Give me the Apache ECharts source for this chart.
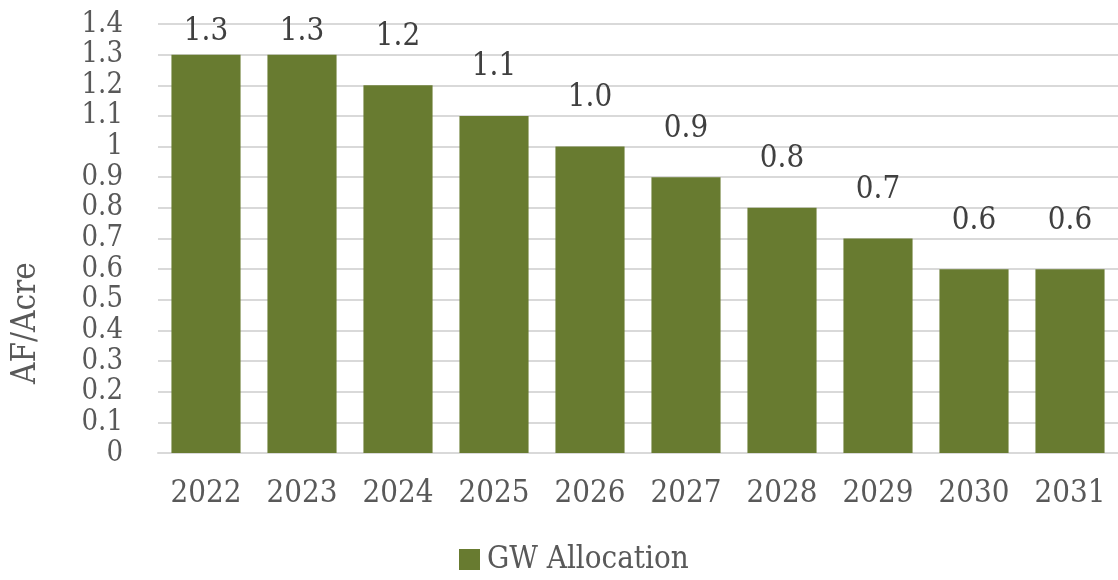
<!DOCTYPE html>
<html>
<head>
<meta charset="utf-8">
<title>GW Allocation</title>
<script src="https://cdn.jsdelivr.net/npm/echarts@6/dist/echarts.min.js"></script>
<style>
    html, body { margin: 0; padding: 0; background: #fff; }
    #gw_allocation { width: 1118px; height: 580px; }
</style>
</head>
<body>
<div id="gw_allocation"></div>
<script>
// Chart data
// ------------------------------

var years = ['2022', '2023', '2024', '2025', '2026', '2027', '2028', '2029', '2030', '2031'];
var allocation = [1.3, 1.3, 1.2, 1.1, 1.0, 0.9, 0.8, 0.7, 0.6, 0.6];
var seriesName = 'GW Allocation';
var axisName = 'AF/Acre';


// Setup chart
// ------------------------------

var chartElement = document.getElementById('gw_allocation');
var chart = echarts.init(chartElement, null, { renderer: 'canvas' });

var fontFamily = '"DejaVu Serif Condensed", "DejaVu Serif", serif';
var fontSize = 31;
var barColor = '#687b30';

// Labels near the top of the plot get pushed down, like the original
var barData = allocation.map(function(v) {
    return {
        value: v,
        label: { distance: v >= 1.3 ? 7 : 33 }
    };
});

chart.setOption({
    animation: false,
    textStyle: {
        fontFamily: fontFamily
    },

    grid: {
        left: 158,
        top: 24,
        width: 970,
        bottom: 127,
        containLabel: false
    },

    legend: {
        bottom: 0,
        left: 454,
        itemWidth: 21,
        itemHeight: 21,
        itemGap: 10,
        icon: 'rect',
        textStyle: {
            color: '#595959',
            fontSize: fontSize,
            fontFamily: fontFamily,
            padding: [0, 0, 0, 2]
        },
        data: [seriesName]
    },

    xAxis: {
        type: 'category',
        data: years,
        axisTick: { show: false },
        axisLine: {
            lineStyle: { color: '#d9d9d9', width: 2 }
        },
        axisLabel: {
            color: '#595959',
            fontSize: fontSize,
            margin: 25,
            fontFamily: fontFamily
        }
    },

    yAxis: {
        type: 'value',
        min: 0,
        max: 1.4,
        interval: 0.1,
        axisLine: { show: false },
        axisTick: { show: false },
        axisLabel: {
            color: '#595959',
            fontSize: 29,
            lineHeight: 22,
            margin: 35,
            fontFamily: fontFamily,
            formatter: function(v) {
                return String(Math.round(v * 10) / 10);
            }
        },
        splitLine: {
            lineStyle: { color: '#d9d9d9', width: 2 }
        }
    },

    // Axis title sits lower than the axis middle in the original
    graphic: [{
        type: 'text',
        rotation: Math.PI / 2,
        originX: 0,
        originY: 0,
        style: {
            text: axisName,
            fill: '#595959',
            fontSize: 33,
            fontFamily: fontFamily
        },
        x: 10,
        y: 384
    }],

    series: [{
        name: seriesName,
        type: 'bar',
        barCategoryGap: '28%',
        itemStyle: { color: barColor },
        label: {
            show: true,
            position: 'top',
            color: '#404040',
            fontSize: fontSize,
            fontFamily: fontFamily,
            formatter: function(p) {
                return p.value.toFixed(1);
            }
        },
        data: barData
    }]
});
</script>
</body>
</html>
